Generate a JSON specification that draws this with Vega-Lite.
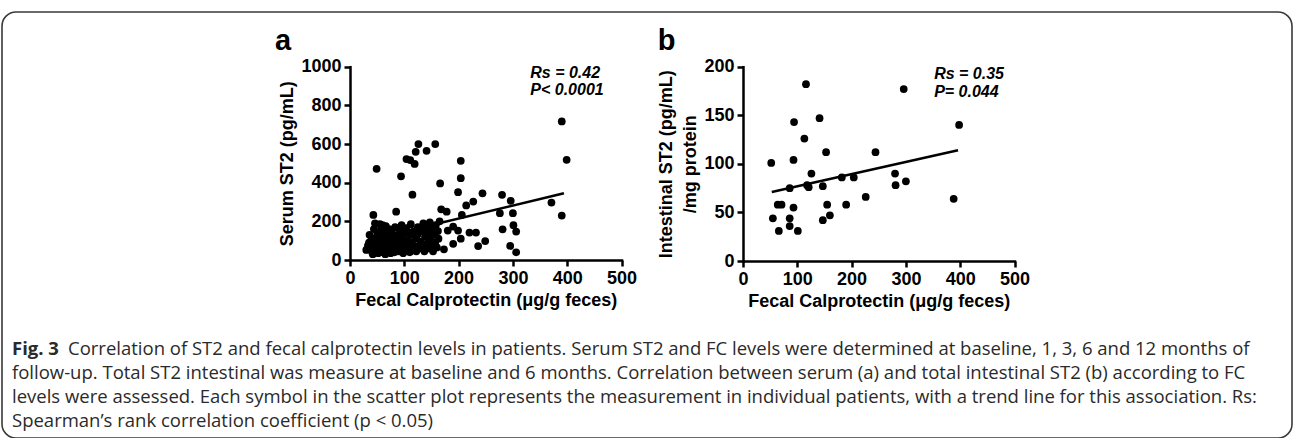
{
  "$schema": "https://vega.github.io/schema/vega-lite/v6.json",
  "width": 1290,
  "height": 426,
  "autosize": "none",
  "padding": {"left": 2, "top": 12, "right": 3, "bottom": 0},
  "background": "white",
  "config": {
    "view": {"stroke": "#3a3a3a", "strokeWidth": 1.6, "cornerRadius": 14},
    "font": "Liberation Sans",
    "axis": {
      "grid": false,
      "format": "d",
      "domainColor": "black",
      "domainWidth": 2.5,
      "domainCap": "square",
      "tickColor": "black",
      "tickWidth": 2.5,
      "tickSize": 6,
      "labelFont": "Liberation Sans",
      "labelFontWeight": "bold",
      "labelFontSize": 18,
      "labelColor": "black",
      "labelFlush": false,
      "labelOverlap": false,
      "labelBound": false,
      "labelPadding": 3,
      "titleFont": "Liberation Sans",
      "titleFontWeight": "bold",
      "titleFontSize": 18,
      "titleColor": "black",
      "titlePadding": 4
    }
  },
  "datasets": {
    "serum": [
      {"fc": 30, "st2": 52}, {"fc": 33, "st2": 75}, {"fc": 35, "st2": 90}, {"fc": 36, "st2": 130}, {"fc": 38, "st2": 60},
      {"fc": 40, "st2": 45}, {"fc": 40, "st2": 110}, {"fc": 42, "st2": 30}, {"fc": 44, "st2": 160}, {"fc": 45, "st2": 75},
      {"fc": 46, "st2": 190}, {"fc": 48, "st2": 55}, {"fc": 50, "st2": 100}, {"fc": 50, "st2": 130}, {"fc": 52, "st2": 35},
      {"fc": 53, "st2": 70}, {"fc": 55, "st2": 150}, {"fc": 55, "st2": 185}, {"fc": 56, "st2": 50}, {"fc": 58, "st2": 90},
      {"fc": 58, "st2": 120}, {"fc": 60, "st2": 40}, {"fc": 60, "st2": 180}, {"fc": 62, "st2": 65}, {"fc": 63, "st2": 140},
      {"fc": 65, "st2": 30}, {"fc": 65, "st2": 105}, {"fc": 66, "st2": 175}, {"fc": 68, "st2": 80}, {"fc": 70, "st2": 50},
      {"fc": 70, "st2": 130}, {"fc": 72, "st2": 160}, {"fc": 73, "st2": 100}, {"fc": 75, "st2": 35}, {"fc": 75, "st2": 70},
      {"fc": 77, "st2": 145}, {"fc": 78, "st2": 120}, {"fc": 80, "st2": 55}, {"fc": 80, "st2": 90}, {"fc": 82, "st2": 40},
      {"fc": 83, "st2": 170}, {"fc": 85, "st2": 110}, {"fc": 86, "st2": 75}, {"fc": 88, "st2": 130}, {"fc": 90, "st2": 45},
      {"fc": 90, "st2": 95}, {"fc": 92, "st2": 155}, {"fc": 94, "st2": 60}, {"fc": 95, "st2": 180}, {"fc": 96, "st2": 120},
      {"fc": 98, "st2": 35}, {"fc": 100, "st2": 85}, {"fc": 100, "st2": 140}, {"fc": 102, "st2": 50}, {"fc": 104, "st2": 165},
      {"fc": 106, "st2": 100}, {"fc": 108, "st2": 70}, {"fc": 110, "st2": 130}, {"fc": 110, "st2": 40}, {"fc": 112, "st2": 185},
      {"fc": 114, "st2": 90}, {"fc": 116, "st2": 55}, {"fc": 118, "st2": 150}, {"fc": 120, "st2": 110}, {"fc": 120, "st2": 70},
      {"fc": 122, "st2": 45}, {"fc": 124, "st2": 130}, {"fc": 125, "st2": 170}, {"fc": 128, "st2": 60}, {"fc": 130, "st2": 95},
      {"fc": 132, "st2": 150}, {"fc": 134, "st2": 75}, {"fc": 135, "st2": 190}, {"fc": 137, "st2": 45}, {"fc": 138, "st2": 120},
      {"fc": 140, "st2": 170}, {"fc": 142, "st2": 85}, {"fc": 144, "st2": 140}, {"fc": 145, "st2": 60}, {"fc": 147, "st2": 195},
      {"fc": 148, "st2": 105}, {"fc": 150, "st2": 70}, {"fc": 152, "st2": 160}, {"fc": 153, "st2": 45}, {"fc": 155, "st2": 130},
      {"fc": 157, "st2": 90}, {"fc": 158, "st2": 180}, {"fc": 160, "st2": 65}, {"fc": 162, "st2": 150}, {"fc": 163, "st2": 110},
      {"fc": 165, "st2": 200},
      {"fc": 49, "st2": 472}, {"fc": 43, "st2": 233}, {"fc": 85, "st2": 250}, {"fc": 94, "st2": 433}, {"fc": 104, "st2": 522},
      {"fc": 111, "st2": 517}, {"fc": 119, "st2": 497}, {"fc": 121, "st2": 560}, {"fc": 126, "st2": 600}, {"fc": 115, "st2": 338},
      {"fc": 141, "st2": 565}, {"fc": 157, "st2": 600}, {"fc": 166, "st2": 396}, {"fc": 168, "st2": 262}, {"fc": 178, "st2": 250},
      {"fc": 199, "st2": 351}, {"fc": 204, "st2": 513}, {"fc": 204, "st2": 423}, {"fc": 206, "st2": 233}, {"fc": 214, "st2": 282},
      {"fc": 227, "st2": 302}, {"fc": 244, "st2": 345}, {"fc": 276, "st2": 242}, {"fc": 280, "st2": 337}, {"fc": 296, "st2": 306},
      {"fc": 300, "st2": 242}, {"fc": 301, "st2": 180}, {"fc": 281, "st2": 159}, {"fc": 306, "st2": 147}, {"fc": 295, "st2": 73},
      {"fc": 306, "st2": 40}, {"fc": 220, "st2": 142}, {"fc": 232, "st2": 142}, {"fc": 236, "st2": 72}, {"fc": 249, "st2": 98},
      {"fc": 190, "st2": 173}, {"fc": 180, "st2": 152}, {"fc": 199, "st2": 152}, {"fc": 204, "st2": 110}, {"fc": 190, "st2": 84},
      {"fc": 173, "st2": 55}, {"fc": 371, "st2": 297}, {"fc": 390, "st2": 717}, {"fc": 399, "st2": 518}, {"fc": 390, "st2": 230}
    ],
    "serumTrend": [{"fc": 35, "st2": 103}, {"fc": 394, "st2": 345}],
    "serumText": [
      {"fc": 332, "st2": 967, "label": "Rs = 0.42"},
      {"fc": 332, "st2": 879, "label": "P< 0.0001"}
    ],
    "serumLetter": [{"fc": -138, "st2": 1086, "label": "a"}],
    "intest": [
      {"fc": 52, "st2": 101}, {"fc": 55, "st2": 44}, {"fc": 64, "st2": 58}, {"fc": 71, "st2": 58}, {"fc": 66, "st2": 31},
      {"fc": 86, "st2": 75}, {"fc": 86, "st2": 44}, {"fc": 86, "st2": 36}, {"fc": 94, "st2": 143}, {"fc": 93, "st2": 104},
      {"fc": 93, "st2": 55}, {"fc": 101, "st2": 31}, {"fc": 113, "st2": 126}, {"fc": 116, "st2": 182}, {"fc": 118, "st2": 78},
      {"fc": 121, "st2": 76}, {"fc": 126, "st2": 90}, {"fc": 141, "st2": 147}, {"fc": 147, "st2": 77}, {"fc": 147, "st2": 42},
      {"fc": 153, "st2": 112}, {"fc": 155, "st2": 58}, {"fc": 160, "st2": 47}, {"fc": 182, "st2": 86}, {"fc": 190, "st2": 58},
      {"fc": 204, "st2": 86}, {"fc": 226, "st2": 66}, {"fc": 244, "st2": 112}, {"fc": 280, "st2": 90}, {"fc": 281, "st2": 78},
      {"fc": 296, "st2": 177}, {"fc": 300, "st2": 82}, {"fc": 388, "st2": 64}, {"fc": 398, "st2": 140}
    ],
    "intestTrend": [{"fc": 53, "st2": 71}, {"fc": 396, "st2": 114}],
    "intestText": [
      {"fc": 352, "st2": 193, "label": "Rs = 0.35"},
      {"fc": 352, "st2": 174, "label": "P= 0.044"}
    ],
    "intestLetter": [{"fc": -157, "st2": 217, "label": "b"}],
    "captionBold": [{"col": 0, "line": 1, "label": "Fig. 3"}],
    "captionFirst": [{"col": 0, "line": 1, "label": "Correlation of ST2 and fecal calprotectin levels in patients. Serum ST2 and FC levels were determined at baseline, 1, 3, 6 and 12 months of"}],
    "captionRest": [
      {"col": 0, "line": 2, "label": "follow-up. Total ST2 intestinal was measure at baseline and 6 months. Correlation between serum (a) and total intestinal ST2 (b) according to FC"},
      {"col": 0, "line": 3, "label": "levels were assessed. Each symbol in the scatter plot represents the measurement in individual patients, with a trend line for this association. Rs:"},
      {"col": 0, "line": 4, "label": "Spearman’s rank correlation coefficient (p < 0.05)"}
    ]
  },
  "layer": [
    {
      "encoding": {
        "x": {
          "field": "fc", "type": "quantitative",
          "scale": {"domain": [0, 500], "range": [348, 619.5], "nice": false},
          "axis": {"orient": "bottom", "offset": -178, "values": [0, 100, 200, 300, 400, 500], "title": "Fecal Calprotectin (μg/g feces)"}
        },
        "y": {
          "field": "st2", "type": "quantitative",
          "scale": {"domain": [0, 1000], "range": [248, 54.7], "nice": false},
          "axis": {"orient": "left", "offset": -348, "values": [0, 200, 400, 600, 800, 1000], "title": "Serum ST2 (pg/mL)"}
        }
      },
      "layer": [
        {"data": {"name": "serum"}, "mark": {"type": "circle", "size": 60, "color": "black", "opacity": 1}},
        {"data": {"name": "serumTrend"}, "mark": {"type": "line", "color": "black", "strokeWidth": 2.5}},
        {"data": {"name": "serumText"}, "mark": {"type": "text", "align": "left", "baseline": "middle", "fontSize": 16, "fontWeight": "bold", "fontStyle": "italic", "color": "black"}, "encoding": {"text": {"field": "label"}}},
        {"data": {"name": "serumLetter"}, "mark": {"type": "text", "align": "left", "baseline": "alphabetic", "fontSize": 29, "fontWeight": "bold", "color": "black"}, "encoding": {"text": {"field": "label"}}}
      ]
    },
    {
      "encoding": {
        "x": {
          "field": "fc", "type": "quantitative",
          "scale": {"domain": [0, 500], "range": [741, 1012.5], "nice": false},
          "axis": {"orient": "bottom", "offset": -177, "values": [0, 100, 200, 300, 400, 500], "title": "Fecal Calprotectin (μg/g feces)"}
        },
        "y": {
          "field": "st2", "type": "quantitative",
          "scale": {"domain": [0, 200], "range": [249, 54.7], "nice": false},
          "axis": {"orient": "left", "offset": -741, "values": [0, 50, 100, 150, 200], "title": ["Intestinal ST2 (pg/mL)", "/mg protein"], "titleLineHeight": 24}
        }
      },
      "layer": [
        {"data": {"name": "intest"}, "mark": {"type": "circle", "size": 60, "color": "black", "opacity": 1}},
        {"data": {"name": "intestTrend"}, "mark": {"type": "line", "color": "black", "strokeWidth": 2.5}},
        {"data": {"name": "intestText"}, "mark": {"type": "text", "align": "left", "baseline": "middle", "fontSize": 16, "fontWeight": "bold", "fontStyle": "italic", "color": "black"}, "encoding": {"text": {"field": "label"}}},
        {"data": {"name": "intestLetter"}, "mark": {"type": "text", "align": "left", "baseline": "alphabetic", "fontSize": 29, "fontWeight": "bold", "color": "black"}, "encoding": {"text": {"field": "label"}}}
      ]
    },
    {
      "encoding": {
        "x": {"field": "col", "type": "quantitative", "scale": {"domain": [0, 1], "range": [10, 1290]}, "axis": null},
        "y": {"field": "line", "type": "quantitative", "scale": {"domain": [1, 4], "range": [337, 409]}, "axis": null},
        "text": {"field": "label"}
      },
      "layer": [
        {"data": {"name": "captionBold"}, "mark": {"type": "text", "align": "left", "baseline": "middle", "font": "Open Sans", "fontSize": 18.5, "fontWeight": "bold", "color": "#2a2a2a"}},
        {"data": {"name": "captionFirst"}, "mark": {"type": "text", "align": "left", "baseline": "middle", "dx": 56, "font": "Open Sans", "fontSize": 18.5, "color": "#2a2a2a"}},
        {"data": {"name": "captionRest"}, "mark": {"type": "text", "align": "left", "baseline": "middle", "font": "Open Sans", "fontSize": 18.5, "color": "#2a2a2a"}}
      ]
    }
  ],
  "resolve": {
    "scale": {"x": "independent", "y": "independent"},
    "axis": {"x": "independent", "y": "independent"}
  }
}
